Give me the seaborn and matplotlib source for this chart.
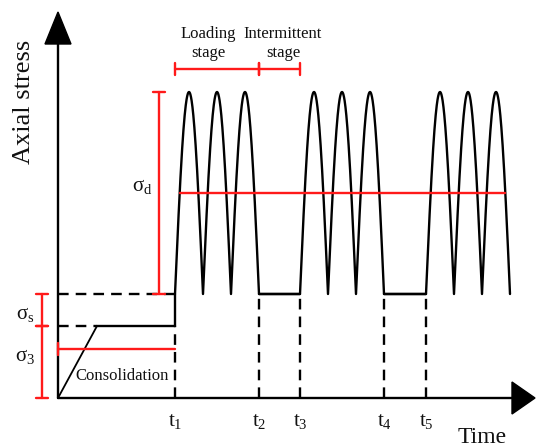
import numpy as np
import pandas as pd
import matplotlib
matplotlib.use("Agg")
import matplotlib.pyplot as plt
from matplotlib.patches import Polygon
import seaborn as sns

# ---------------- data (schematic units) ----------------
time_marks = [117, 201, 242, 326, 368]            # t1 .. t5
time_labels = ["$t_1$", "$t_2$", "$t_3$", "$t_4$", "$t_5$"]
load_stages = [(117, 201), (242, 326), (368, 452)]  # loading windows
cycles_per_stage = [3, 3, 3]
sigma3_level = 72          # confining stress
static_level = 104         # sigma3 + sigma_s
peak_level = 306           # top of dynamic load
mean_level = 205           # mean dynamic level
consol_end = 39            # end of consolidation ramp
x_axis_end = 455
y_axis_end = 355

sns.set_theme(style="white")
plt.rcParams["font.family"] = ["Liberation Serif", "DejaVu Serif"]
plt.rcParams["mathtext.fontset"] = "custom"
plt.rcParams["mathtext.rm"] = "Liberation Serif"
plt.rcParams["mathtext.it"] = "Liberation Serif"

fig = plt.figure(figsize=(5.36, 4.48), dpi=100)
ax = fig.add_axes([0, 0, 1, 1])

LW = 1.7
RED = "#ff1a1a"
TXT = "#111111"

# ---------------- waveform ----------------
xs, ys = [], []
for (a, b), n in zip(load_stages, cycles_per_stage):
    x = np.linspace(a, b, 400)
    y = static_level + (peak_level - static_level) * np.abs(np.sin(np.pi * n * (x - a) / (b - a)))
    xs.extend(x)
    ys.extend(y)
wave = pd.DataFrame({"x": xs, "y": ys})
sns.lineplot(data=wave, x="x", y="y", sort=False, estimator=None, color="black", lw=LW, ax=ax)
ax.set_xlim(-58, 478)
ax.set_ylim(-50, 398)
ax.axis("off")

# ---------------- axes with arrows ----------------
ax.plot([0, 0], [0, y_axis_end], color="black", lw=LW)
ax.plot([0, x_axis_end], [0, 0], color="black", lw=LW)
ax.add_patch(Polygon([[-13, y_axis_end - 1], [13, y_axis_end - 1], [0, 386]], closed=True, color="black"))
ax.add_patch(Polygon([[x_axis_end - 1, -16], [x_axis_end - 1, 16], [477, 0]], closed=True, color="black"))

dash = dict(color="black", lw=LW, dashes=(4.5, 3))
# consolidation ramp & static levels
ax.plot([0, consol_end], [0, sigma3_level], color="black", lw=1.3)
ax.plot([0, consol_end], [sigma3_level, sigma3_level], **dash)
ax.plot([consol_end, time_marks[0]], [sigma3_level, sigma3_level], color="black", lw=LW)
ax.plot([0, time_marks[0]], [static_level, static_level], **dash)
ax.plot([time_marks[0], time_marks[0]], [sigma3_level, static_level], color="black", lw=LW)
ax.plot([time_marks[0], time_marks[0]], [0, sigma3_level], **dash)
# intermittent flats
for (a, b) in [(load_stages[0][1], load_stages[1][0]), (load_stages[1][1], load_stages[2][0])]:
    ax.plot([a, b], [static_level, static_level], color="black", lw=LW)
for t in time_marks[1:]:
    ax.plot([t, t], [0, static_level], **dash)

# ---------------- red annotations ----------------
ax.plot([122, 447], [mean_level, mean_level], color=RED, lw=LW)

def vbar(x, y0, y1, w=6):
    ax.plot([x, x], [y0, y1], color=RED, lw=LW)
    ax.plot([x - w, x + w], [y0, y0], color=RED, lw=LW)
    ax.plot([x - w, x + w], [y1, y1], color=RED, lw=LW)

vbar(-16, 0, sigma3_level)
vbar(-16, sigma3_level, static_level)
vbar(101, static_level, peak_level)

def hbar(x0, x1, y, h=6):
    ax.plot([x0, x1], [y, y], color=RED, lw=LW)
    for x in (x0, x1):
        ax.plot([x, x], [y - h, y + h], color=RED, lw=LW)

hbar(time_marks[0], time_marks[1], 329)
hbar(time_marks[1], time_marks[2], 329)
ax.plot([0, time_marks[0]], [49, 49], color=RED, lw=LW)
ax.plot([0, 0], [43, 55], color=RED, lw=LW)

# ---------------- text ----------------
ax.text(-34, 296, "Axial stress", rotation=90, ha="center", va="center", fontsize=19, color=TXT)
ax.text(424, -39, "Time", ha="center", va="center", fontsize=17, color=TXT)
for t, lab in zip(time_marks, time_labels):
    ax.text(t, -23, lab, ha="center", va="center", fontsize=15, color=TXT)
ax.text(-33, 84, r"$\sigma_\mathrm{s}$", ha="center", va="center", fontsize=15, color=TXT)
ax.text(-33, 42, r"$\sigma_3$", ha="center", va="center", fontsize=15, color=TXT)
ax.text(84, 212, r"$\sigma_\mathrm{d}$", ha="center", va="center", fontsize=15, color=TXT)
ax.text(64, 22, "Consolidation", ha="center", va="center", fontsize=12, color=TXT)
ax.text(150, 355, "Loading\nstage", ha="center", va="center", fontsize=12, linespacing=1.25, color=TXT)
ax.text(225, 355, "Intermittent\nstage", ha="center", va="center", fontsize=12, linespacing=1.25, color=TXT)

fig.savefig("out.png", dpi=100)
